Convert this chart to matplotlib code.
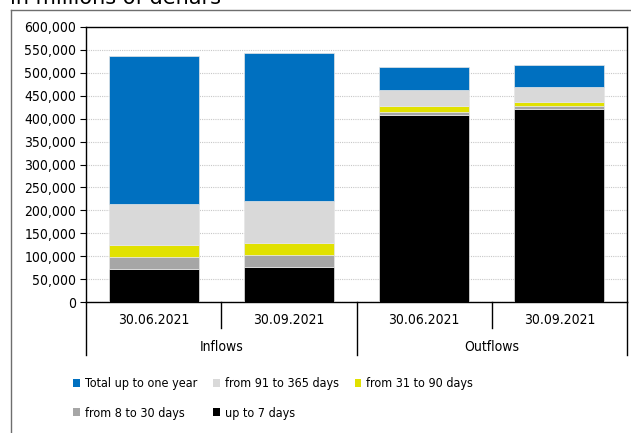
import matplotlib
matplotlib.use("Agg")
import matplotlib.pyplot as plt
from matplotlib.lines import Line2D
from matplotlib.patches import Patch
import numpy as np

plt.rcParams['font.family'] = ['DejaVu Sans']
plt.rcParams['font.stretch'] = 'condensed'

dates = ["30.06.2021", "30.09.2021", "30.06.2021", "30.09.2021"]
groups = ["Inflows", "Outflows"]

# stacked segments, millions of denars (bottom to top)
up_to_7 = [71300, 77100, 407300, 420400]
d8_30 = [27500, 25400, 7200, 6600]
d31_90 = [24900, 26900, 13800, 10000]
d91_365 = [89400, 90200, 34200, 31400]
total_1y = [323600, 322900, 50900, 48000]

series = [
    ("up to 7 days", up_to_7, "#000000"),
    ("from 8 to 30 days", d8_30, "#a6a6a6"),
    ("from 31 to 90 days", d31_90, "#e1e100"),
    ("from 91 to 365 days", d91_365, "#d9d9d9"),
    ("Total up to one year", total_1y, "#0070c0"),
]

W, H = 631, 433
fig = plt.figure(figsize=(W / 100, H / 100), dpi=100)
left, right, top, bottom = 86, 627, 27, 302
ax = fig.add_axes([left / W, 1 - bottom / H, (right - left) / W, (bottom - top) / H])

x = np.arange(len(dates))
base = np.zeros(len(dates))
handles = {}
for name, vals, col in series:
    ax.bar(x, vals, width=0.665, bottom=base, color=col,
           edgecolor="#e6e6e6", linewidth=0.5, zorder=3)
    base += np.array(vals)
    handles[name] = Patch(facecolor=col)

ax.set_xlim(-0.5, 3.5)
ax.set_ylim(0, 600000)
ax.set_yticks(np.arange(0, 600001, 50000))
ax.set_yticklabels([f"{v:,}" for v in range(0, 600001, 50000)], fontsize=10)
ax.tick_params(axis="y", length=4, width=0.8, pad=3)
ax.set_xticks([])
ax.yaxis.grid(True, linestyle=(0, (1, 1)), color="#c8c8c8", linewidth=0.8, zorder=0)
for s in ax.spines.values():
    s.set_linewidth(1)
    s.set_color("black")

# category axis with grouped labels
trans = ax.get_xaxis_transform()
for i, d in enumerate(dates):
    ax.text(i, -0.065, d, transform=trans, ha="center", va="center", fontsize=10)
for j, g in enumerate(groups):
    ax.text(2 * j + 0.5, -0.162, g, transform=trans, ha="center", va="center", fontsize=10)
for xs, depth in [(-0.5, -0.193), (0.5, -0.095), (1.5, -0.193), (2.5, -0.095), (3.5, -0.193)]:
    ax.add_line(Line2D([xs, xs], [0, depth], transform=trans, color="black",
                       linewidth=1, clip_on=False))

# outer frame
frame_col = "#6e6e6e"
fig.add_artist(Line2D([10.5 / W, 10.5 / W], [0, 1 - 9.5 / H], transform=fig.transFigure,
                      color=frame_col, linewidth=1))
fig.add_artist(Line2D([10.5 / W, 1], [1 - 9.5 / H, 1 - 9.5 / H], transform=fig.transFigure,
                      color=frame_col, linewidth=1))

fig.text(10 / W, 1 - 4.5 / H, "in millions of denars", fontsize=15,
         fontstretch="normal", ha="left", va="baseline")

order = ["Total up to one year", "from 8 to 30 days", "from 91 to 365 days",
         "up to 7 days", "from 31 to 90 days"]
fig.legend([handles[n] for n in order], order, ncol=3, loc="upper left",
           bbox_to_anchor=(67 / W, 1 - 371 / H), frameon=False, fontsize=9,
           handlelength=0.55, handleheight=0.55, handletextpad=0.4,
           columnspacing=1.25, labelspacing=1.3, borderpad=0)

fig.savefig("out.png", dpi=100)
